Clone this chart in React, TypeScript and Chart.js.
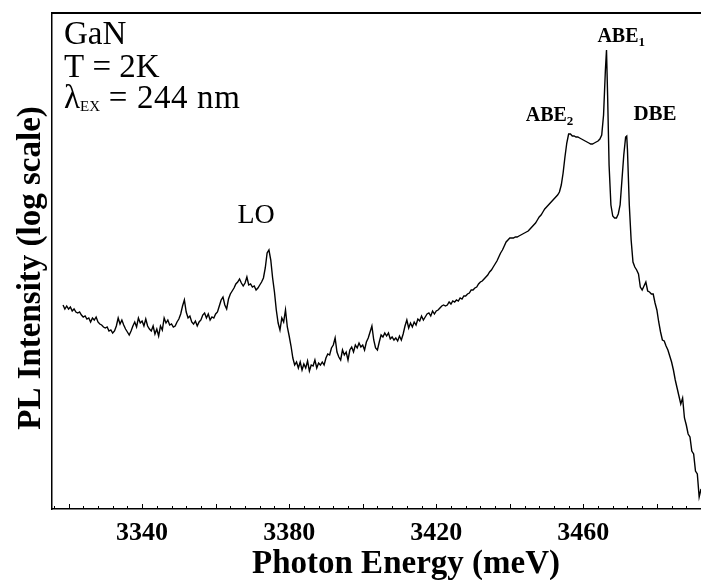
import React, { useEffect, useRef } from "react";
import { Chart, registerables } from "chart.js";
Chart.register(...registerables);

// Photon energy (meV)
const energy = [
  3318.5, 3319, 3319.5, 3320, 3320.5, 3321, 3321.5, 3322, 3322.5,
  3323, 3323.5, 3324, 3324.5, 3325, 3325.5, 3326, 3326.5, 3327, 3327.5,
  3328, 3328.5, 3329, 3329.5, 3330, 3330.5, 3331, 3331.5, 3332, 3332.5,
  3333, 3333.5, 3334, 3334.5, 3335, 3335.5, 3336, 3336.5, 3337, 3337.5,
  3338, 3338.5, 3339, 3339.5, 3340, 3340.5, 3341, 3341.5, 3342, 3342.5,
  3343, 3343.5, 3344, 3344.5, 3345, 3345.5, 3346, 3346.5, 3347, 3347.5,
  3348, 3348.5, 3349, 3349.5, 3350, 3350.5, 3351, 3351.5, 3352, 3352.5,
  3353, 3353.5, 3354, 3354.5, 3355, 3355.5, 3356, 3356.5, 3357, 3357.5,
  3358, 3358.5, 3359, 3359.5, 3360, 3360.5, 3361, 3361.5, 3362, 3362.5,
  3363, 3363.5, 3364, 3364.5, 3365, 3365.5, 3366, 3366.5, 3367, 3367.5,
  3368, 3368.5, 3369, 3369.5, 3370, 3370.5, 3371, 3371.5, 3372, 3372.5,
  3373, 3373.5, 3374, 3374.5, 3375, 3375.5, 3376, 3376.5, 3377, 3377.5,
  3378, 3378.5, 3379, 3379.5, 3380, 3380.5, 3381, 3381.5, 3382, 3382.5,
  3383, 3383.5, 3384, 3384.5, 3385, 3385.5, 3386, 3386.5, 3387, 3387.5,
  3388, 3388.5, 3389, 3389.5, 3390, 3390.5, 3391, 3391.5, 3392, 3392.5,
  3393, 3393.5, 3394, 3394.5, 3395, 3395.5, 3396, 3396.5, 3397, 3397.5,
  3398, 3398.5, 3399, 3399.5, 3400, 3400.5, 3401, 3401.5, 3402, 3402.5,
  3403, 3403.5, 3404, 3404.5, 3405, 3405.5, 3406, 3406.5, 3407, 3407.5,
  3408, 3408.5, 3409, 3409.5, 3410, 3410.5, 3411, 3411.5, 3412, 3412.5,
  3413, 3413.5, 3414, 3414.5, 3415, 3415.5, 3416, 3416.5, 3417, 3417.5,
  3418, 3418.5, 3419, 3419.5, 3420, 3420.5, 3421, 3421.5, 3422, 3422.5,
  3423, 3423.5, 3424, 3424.5, 3425, 3425.5, 3426, 3426.5, 3427, 3427.5,
  3428, 3428.5, 3429, 3429.5, 3430, 3430.5, 3431, 3431.5, 3432, 3432.5,
  3433, 3433.5, 3434, 3434.5, 3435, 3435.5, 3436, 3436.5, 3437, 3437.5,
  3438, 3438.5, 3439, 3439.5, 3440, 3440.5, 3441, 3441.5, 3442, 3442.5,
  3443, 3443.5, 3444, 3444.5, 3445, 3445.5, 3446, 3446.5, 3447, 3447.5,
  3448, 3448.5, 3449, 3449.5, 3450, 3450.5, 3451, 3451.5, 3452, 3452.5,
  3453, 3453.5, 3454, 3454.5, 3455, 3455.5, 3456, 3456.5, 3457, 3457.5,
  3458, 3458.5, 3459, 3459.5, 3460, 3460.5, 3461, 3461.5, 3462, 3462.5,
  3463, 3463.5, 3464, 3464.5, 3465, 3465.5,
  3466, 3466.3, 3466.6,
  3467, 3467.5, 3468, 3468.5, 3469, 3469.5, 3470, 3470.5, 3471, 3471.5,
  3471.8,
  3472, 3472.5, 3473, 3473.5, 3474, 3474.5, 3475, 3475.5, 3476, 3476.5,
  3477, 3477.5, 3478, 3478.5, 3479, 3479.5, 3480, 3480.5, 3481, 3481.5,
  3482, 3482.5, 3483, 3483.5, 3484, 3484.5, 3485, 3485.5, 3486, 3486.5,
  3487, 3487.5, 3488, 3488.5, 3489, 3489.5, 3490, 3490.5, 3491, 3491.5,
  3492,
];

// PL intensity, log scale (arbitrary units)
const intensity = [
  204, 200, 203, 200, 202, 198, 200, 197, 196,
  197, 194, 192, 193, 190, 191, 187, 191, 189, 192,
  187, 185, 184, 182, 181, 182, 178, 179, 176, 178,
  183, 191, 185, 189, 184, 180, 177, 174, 178, 183,
  187, 182, 191, 186, 188, 183, 190, 183, 180, 178,
  183, 175, 180, 173, 183, 179, 191, 186, 189, 184,
  185, 182, 183, 187, 190, 195, 203, 209, 197, 191,
  193, 187, 185, 188, 183, 187, 189, 194, 196, 191,
  195, 189, 192, 191, 195, 197, 203, 209, 212, 204,
  200, 210, 215, 218, 221, 225, 227, 230, 226, 223,
  226, 232, 224, 225, 222, 223, 219, 221, 224, 227,
  231, 241, 256, 259, 249, 231, 217, 199, 186, 179,
  191, 187, 199, 182, 173, 163, 151, 144, 147, 141,
  147, 139, 145, 141, 148, 138, 144, 143, 149, 141,
  146, 144, 147, 144, 151, 155, 154, 161, 164, 171,
  157, 152, 149, 159, 154, 157, 149, 159, 162, 157,
  164, 161, 166, 162, 164, 159, 167, 171, 177, 183,
  169, 161, 159, 167, 174, 172, 176, 173, 176, 170,
  172, 169, 171, 168, 173, 169, 175, 183, 189, 181,
  186, 182, 187, 184, 190, 188, 193, 189, 192, 195,
  196, 193, 198, 195, 198, 199, 201, 203, 204, 203,
  204, 207, 205, 208, 207, 209, 208, 211, 210, 213,
  213, 215, 216, 219, 219, 221, 222, 225, 227, 228,
  230, 232, 234, 237, 239, 242, 245, 248, 252, 256,
  259, 263, 267, 269, 271, 271, 271, 272, 272, 273,
  274, 275, 276, 277, 278, 280, 282, 284, 286, 289,
  292, 294, 297, 300, 302, 304, 306, 308, 310, 312,
  314, 317, 324, 336, 352, 366, 375, 375, 373, 373,
  372, 372, 371, 370, 369, 368, 367, 366, 365, 365,
  366, 367, 368, 370, 374, 394,
  439, 459, 414,
  344, 304, 293, 291, 291, 295, 304, 329, 354, 372,
  373,
  359, 304, 269, 247, 242, 239, 235, 222, 219, 223,
  227, 218, 217, 215, 215, 206, 199, 187, 177, 169,
  168, 163, 159, 153, 147, 139, 129, 121, 113, 105,
  111, 91, 84, 75, 72, 58, 55, 38, 35, 12,
  20,
];

const xTickLabels = [3340, 3380, 3420, 3460];
const majorTickValues = [3320, 3340, 3360, 3380, 3400, 3420, 3440, 3460, 3480];
const X_MIN = 3315.5;
const X_MAX = 3492;
const Y_MIN = 0;
const Y_MAX = 496;

const SERIF = '"Liberation Serif", "Times New Roman", Times, serif';

type Part = { t: string; font: string; dy?: number; ls?: number };

function drawParts(ctx: CanvasRenderingContext2D, parts: Part[], x: number, y: number, align: "left" | "center") {
  const c: any = ctx;
  let total = 0;
  for (const p of parts) {
    ctx.font = p.font;
    c.letterSpacing = `${p.ls || 0}px`;
    total += ctx.measureText(p.t).width;
  }
  let cx = align === "center" ? x - total / 2 : x;
  ctx.textAlign = "left";
  ctx.textBaseline = "alphabetic";
  for (const p of parts) {
    ctx.font = p.font;
    c.letterSpacing = `${p.ls || 0}px`;
    ctx.fillText(p.t, cx, y + (p.dy || 0));
    cx += ctx.measureText(p.t).width;
  }
  c.letterSpacing = "0px";
}

const decor = {
  id: "decor",
  afterDraw(chart: any) {
    const { ctx, chartArea: a } = chart;
    const xs = chart.scales.x;
    ctx.save();
    ctx.strokeStyle = "#000";
    ctx.fillStyle = "#000";

    // top frame line
    ctx.lineWidth = 2;
    ctx.beginPath();
    ctx.moveTo(a.left, a.top);
    ctx.lineTo(a.right, a.top);
    ctx.stroke();

    // inward tick marks
    ctx.lineWidth = 1;
    for (let v = 3316; v <= X_MAX; v += 4) {
      const px = Math.round(xs.getPixelForValue(v)) + 0.5;
      const len = majorTickValues.includes(v) ? 5 : 3;
      ctx.beginPath();
      ctx.moveTo(px, a.bottom);
      ctx.lineTo(px, a.bottom - len);
      ctx.stroke();
    }

    // x tick labels
    for (const v of xTickLabels) {
      drawParts(ctx, [{ t: String(v), font: `bold 26px ${SERIF}` }], xs.getPixelForValue(v), 540, "center");
    }

    // axis titles
    drawParts(ctx, [{ t: "Photon Energy (meV)", font: `bold 33px ${SERIF}` }], 406, 573, "center");
    ctx.save();
    ctx.translate(40, 268);
    ctx.rotate(-Math.PI / 2);
    drawParts(ctx, [{ t: "PL Intensity (log scale)", font: `bold 33px ${SERIF}` }], 0, 0, "center");
    ctx.restore();

    // sample info
    const reg = `33px ${SERIF}`;
    drawParts(ctx, [{ t: "GaN", font: reg }], 64, 44, "left");
    drawParts(ctx, [{ t: "T = 2K", font: reg }], 64, 77, "left");
    drawParts(
      ctx,
      [
        { t: "λ", font: reg },
        { t: "EX", font: `15px ${SERIF}`, dy: 3 },
        { t: " = 244 nm", font: reg, ls: 0.6 },
      ],
      64,
      108,
      "left"
    );

    // peak labels
    drawParts(ctx, [{ t: "LO", font: `28px ${SERIF}` }], xs.getPixelForValue(3371), 223, "center");
    const b = `bold 20px ${SERIF}`;
    const bs = `bold 13px ${SERIF}`;
    drawParts(ctx, [{ t: "ABE", font: b }, { t: "2", font: bs, dy: 4 }], xs.getPixelForValue(3450.8), 121, "center");
    drawParts(ctx, [{ t: "ABE", font: b }, { t: "1", font: bs, dy: 4 }], xs.getPixelForValue(3470.3), 42, "center");
    drawParts(ctx, [{ t: "DBE", font: `bold 21px ${SERIF}` }], xs.getPixelForValue(3479.5), 120, "center");

    ctx.restore();
  },
};

export default function App() {
  const ref = useRef<HTMLCanvasElement | null>(null);
  useEffect(() => {
    if (!ref.current) return;
    const points = energy.map((e, i) => ({ x: e, y: intensity[i] }));
    const chart = new Chart(ref.current, {
      type: "line",
      data: {
        datasets: [
          {
            data: points,
            borderColor: "#000",
            borderWidth: 1.4,
            pointRadius: 0,
            tension: 0,
            fill: false,
          },
        ],
      },
      options: {
        animation: false,
        responsive: false,
        devicePixelRatio: 1,
        layout: { padding: { left: 0, right: 0, top: 13, bottom: 0 } },
        plugins: { legend: { display: false }, tooltip: { enabled: false }, title: { display: false } },
        scales: {
          x: {
            type: "linear",
            min: X_MIN,
            max: X_MAX,
            ticks: { display: false },
            grid: { display: false, drawTicks: false },
            border: { display: true, color: "#000", width: 1.5 },
            afterFit: (s: any) => {
              s.height = 71;
            },
          },
          y: {
            type: "linear",
            min: Y_MIN,
            max: Y_MAX,
            ticks: { display: false },
            grid: { display: false, drawTicks: false },
            border: { display: true, color: "#000", width: 1.5 },
            afterFit: (s: any) => {
              s.width = 52;
            },
          },
        },
      },
      plugins: [decor],
    });
    return () => chart.destroy();
  }, []);
  return (
    <div style={{ position: "absolute", left: 0, top: 0, width: 701, height: 580, background: "#fff" }}>
      <canvas ref={ref} width={701} height={580} style={{ width: 701, height: 580, display: "block" }} />
    </div>
  );
}
